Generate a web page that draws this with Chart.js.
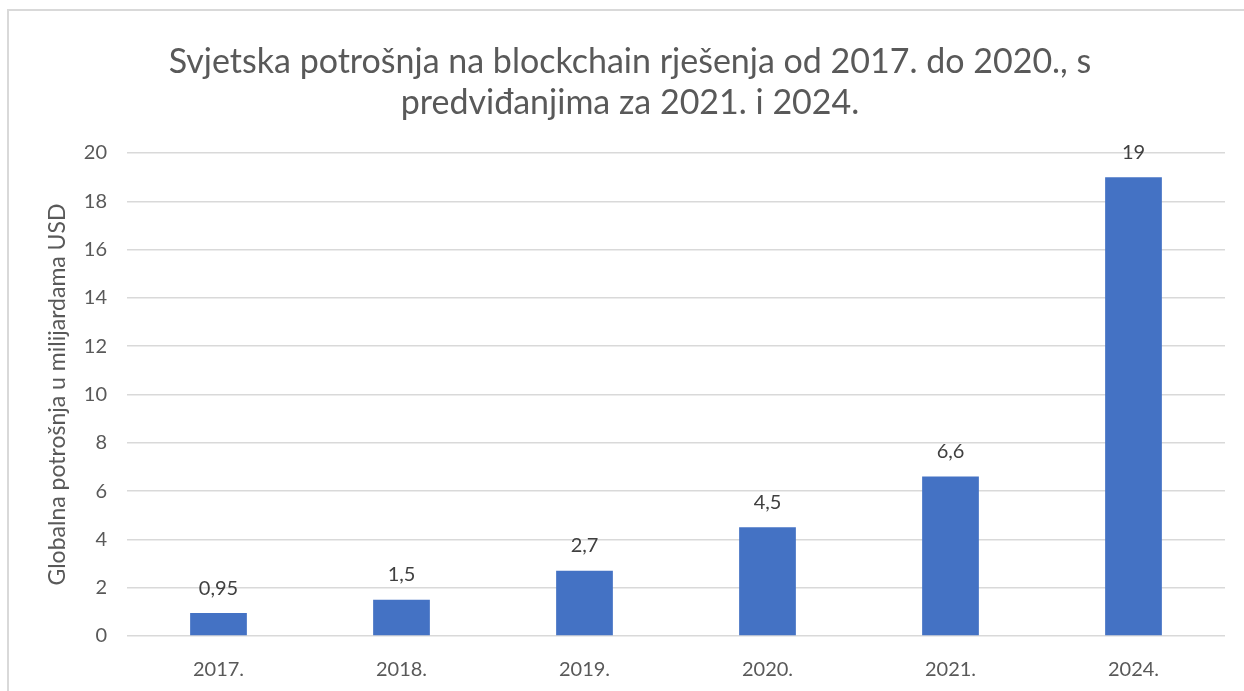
<!DOCTYPE html>
<html lang="hr">
<head>
    <meta charset="UTF-8">
    <title>Svjetska potrošnja na blockchain rješenja</title>
    <script src="https://cdn.jsdelivr.net/npm/chart.js"></script>
    <style>
        body { margin: 0; background: #fff; }
        #frame { position: absolute; left: 7px; top: 9px; width: 1300px; height: 760px; border: 2px solid #d9d9d9; }
        #chart { position: absolute; left: 0; top: 0; }
    </style>
</head>
<body>
    <div id="frame"></div>
    <canvas id="chart" width="1244" height="691"></canvas>

    <script>
        // godine i potrošnja (milijarde USD)
        const years = ["2017.", "2018.", "2019.", "2020.", "2021.", "2024."];
        const spending = [0.95, 1.5, 2.7, 4.5, 6.6, 19];
        const titleLines = [
            "Svjetska potrošnja na blockchain rješenja od 2017. do 2020., s",
            "predviđanjima za 2021. i 2024."
        ];
        const yAxisTitle = "Globalna potrošnja u milijardama USD";

        const textColor = "#595959";
        const fontFamily = "Lato, 'Open Sans', sans-serif";

        // vrijednosti iznad stupaca, s decimalnim zarezom
        const valueLabels = {
            id: "valueLabels",
            afterDatasetsDraw(chart) {
                const ctx = chart.ctx;
                const meta = chart.getDatasetMeta(0);
                ctx.save();
                ctx.font = "20px " + fontFamily;
                ctx.fillStyle = "#404040";
                ctx.textAlign = "center";
                ctx.textBaseline = "middle";
                meta.data.forEach((bar, i) => {
                    const txt = String(spending[i]).replace(".", ",");
                    ctx.fillText(txt, bar.x, bar.y - 25);
                });
                ctx.restore();
            }
        };

        new Chart(document.getElementById("chart"), {
            type: "bar",
            data: {
                labels: years,
                datasets: [{
                    data: spending,
                    backgroundColor: "#4472C4",
                    borderWidth: 0,
                    categoryPercentage: 1,
                    barPercentage: 0.31
                }]
            },
            options: {
                responsive: false,
                animation: false,
                layout: { padding: { left: 35, right: 19, top: 0, bottom: 0 } },
                plugins: {
                    legend: { display: false },
                    tooltip: { enabled: false },
                    title: {
                        display: true,
                        text: titleLines,
                        color: textColor,
                        font: { family: fontFamily, size: 34, weight: "normal", lineHeight: 1.206 },
                        padding: { top: 41.5, bottom: 29.5 }
                    }
                },
                scales: {
                    x: {
                        grid: { display: false },
                        border: { display: false },
                        ticks: { color: textColor, font: { family: fontFamily, size: 20 }, padding: 14 },
                        afterFit(scale) { scale.height = 55; }
                    },
                    y: {
                        min: 0,
                        max: 20,
                        ticks: { stepSize: 2, color: textColor, font: { family: fontFamily, size: 20 }, padding: 20 },
                        grid: { color: "#d9d9d9", lineWidth: 1.5, drawTicks: false },
                        border: { display: false },
                        title: {
                            display: true,
                            text: yAxisTitle,
                            color: textColor,
                            font: { family: fontFamily, size: 23 },
                            padding: { top: 9, bottom: 0 }
                        },
                        afterFit(scale) { scale.width = 92; }
                    }
                }
            },
            plugins: [valueLabels]
        });
    </script>
</body>
</html>
